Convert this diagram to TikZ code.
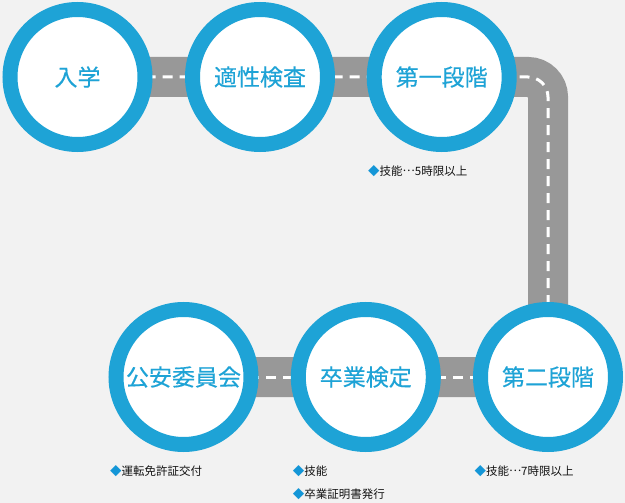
\documentclass[tikz,border=0pt]{standalone}
\usepackage{fontspec}
\setmainfont{Noto Sans CJK JP}
\newfontfamily\labelfont{Noto Sans CJK JP}[FakeBold=0.35]
\definecolor{ringblue}{RGB}{30,163,214}
\definecolor{roadgray}{RGB}{152,152,152}
\definecolor{bggray}{RGB}{242,242,242}
\definecolor{notetext}{RGB}{20,20,20}
\definecolor{dia}{RGB}{20,150,215}
\pgfdeclarelayer{bglayer}
\pgfdeclarelayer{roadlayer}
\pgfsetlayers{bglayer,roadlayer,main}
\tikzset{
  stage/.style={circle, draw=ringblue, line width=15pt, fill=white,
    minimum size=135pt, inner sep=0pt, text=ringblue,
    font=\labelfont\fontsize{23}{23}\selectfont},
  roadbed/.style={draw=roadgray, line width=40pt, rounded corners=20pt},
  roadline/.style={draw=white, line width=3pt, dash pattern=on 10pt off 7pt, rounded corners=20pt},
  note/.style={anchor=west, inner sep=0pt, text=notetext, font=\fontsize{11.5}{12}\selectfont}
}
\newcommand{\dmd}{{\color{dia}◆}}
\newcommand{\mdots}{\raisebox{0.32em}{…}}
\begin{document}
\begin{tikzpicture}[x=1pt,y=-1pt]
\begin{pgfonlayer}{bglayer}
\fill[bggray] (0,0) rectangle (625,503);
\end{pgfonlayer}
\useasboundingbox (0,0) rectangle (625,503);
\node[stage] (s1) at (77.5,77) {入学};
\node[stage] (s2) at (260,77) {適性検査};
\node[stage] (s3) at (441.7,77) {第一段階};
\node[stage] (s4) at (548,377) {第二段階};
\node[stage] (s5) at (365.8,377) {卒業検定};
\node[stage] (s6) at (183.5,377) {公安委員会};
\begin{pgfonlayer}{roadlayer}
\draw[roadbed] (s1.center) -- (s3.center) -| (s4.center) -- (s6.center);
\draw[roadline] (s1.center) -- (s3.center) -| (s4.center);
\draw[roadline] (s4.center) -- (s6.center);
\end{pgfonlayer}
\node[note] (n1) at (368,171) {\dmd 技能\mdots 5時限以上};
\node[note] (n2) at (474.3,471) {\dmd 技能\mdots 7時限以上};
\node[note] (n3) at (292.7,471) {\dmd 技能};
\node[note] (n4) at (292.7,494) {\dmd 卒業証明書発行};
\node[note] (n5) at (110,471) {\dmd 運転免許証交付};
\end{tikzpicture}
\end{document}
